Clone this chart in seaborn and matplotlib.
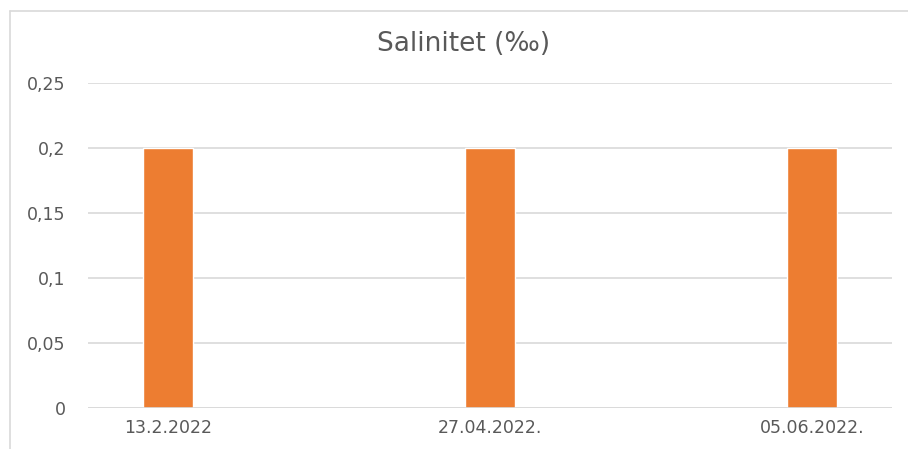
# Salinity bar chart
import matplotlib
matplotlib.use("Agg")
import matplotlib.pyplot as plt
import seaborn as sns
import pandas as pd
from matplotlib.ticker import FuncFormatter
from matplotlib.lines import Line2D

# Data
dates = ["13.2.2022", "27.04.2022.", "05.06.2022."]
salinity = [0.2, 0.2, 0.2]
y_ticks = [0, 0.05, 0.1, 0.15, 0.2, 0.25]

df = pd.DataFrame({"Datum": dates, "Salinitet": salinity})

sns.set_style("white")
plt.rcParams["font.family"] = ["DejaVu Sans"]

W, H = 908, 449
fig = plt.figure(figsize=(W / 100, H / 100), dpi=100)
ax = fig.add_axes([88 / W, 41 / H, (892 - 88) / W, (408 - 83) / H])

sns.barplot(data=df, x="Datum", y="Salinitet", color="#ED7D31", saturation=1,
            width=0.155, ax=ax, zorder=3)

ax.set_xlim(-0.248, 2.248)
ax.set_ylim(0, 0.25)
ax.set_yticks(y_ticks)
ax.yaxis.set_major_formatter(FuncFormatter(lambda v, p: f"{v:g}".replace(".", ",")))
ax.grid(axis="y", color="#D9D9D9", linewidth=1.2, zorder=0)
for s in ax.spines.values():
    s.set_visible(False)
ax.axhline(0, color="#D9D9D9", linewidth=1.2, zorder=4)
ax.tick_params(axis="both", length=0, labelsize=12.5, colors="#595959")
ax.tick_params(axis="y", pad=16)
ax.tick_params(axis="x", pad=8)
ax.set_xlabel("")
ax.set_ylabel("")

fig.text(464 / W, 1 - 44 / H, "Salinitet (‰)", ha="center", va="center",
         fontsize=19, color="#595959")

# chart area border (left and top only visible)
fig.add_artist(Line2D([9.5 / W, 9.5 / W], [0, 1 - 10.5 / H], transform=fig.transFigure,
                      color="#D9D9D9", linewidth=1.2))
fig.add_artist(Line2D([9.5 / W, 1], [1 - 10.5 / H, 1 - 10.5 / H], transform=fig.transFigure,
                      color="#D9D9D9", linewidth=1.2))

fig.savefig("out.png", dpi=100)
